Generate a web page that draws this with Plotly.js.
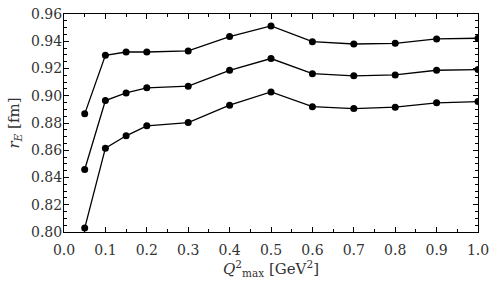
<!DOCTYPE html>
<html>
<head>
<meta charset="utf-8">
<script src="https://cdn.plot.ly/plotly-3.0.1.min.js"></script>
<style>html,body{margin:0;padding:0;background:#fff;}#chart{width:497px;height:291px;}</style>
</head>
<body>
<div id="chart"></div>
<script>
const q2max = [0.05, 0.1, 0.15, 0.2, 0.3, 0.4, 0.5, 0.6, 0.7, 0.8, 0.9, 1.0];
const upper = [0.8867, 0.9297, 0.9321, 0.9321, 0.9329, 0.9434, 0.9512, 0.9397, 0.9380, 0.9385, 0.9417, 0.9422];
const central = [0.8459, 0.8965, 0.9021, 0.9058, 0.9070, 0.9187, 0.9273, 0.9162, 0.9146, 0.9153, 0.9187, 0.9192];
const lower = [0.8029, 0.8615, 0.8706, 0.8779, 0.8803, 0.8931, 0.9028, 0.8920, 0.8906, 0.8916, 0.8948, 0.8957];
const xTickVals = [0, 0.1, 0.2, 0.3, 0.4, 0.5, 0.6, 0.7, 0.8, 0.9, 1.0];
const xTickText = ["0.0", "0.1", "0.2", "0.3", "0.4", "0.5", "0.6", "0.7", "0.8", "0.9", "1.0"];
const yTickVals = [0.80, 0.82, 0.84, 0.86, 0.88, 0.90, 0.92, 0.94, 0.96];
const yTickText = ["0.80", "0.82", "0.84", "0.86", "0.88", "0.90", "0.92", "0.94", "0.96"];

const serif = "DejaVu Serif";
function series(y) {
  return {x: q2max, y: y, type: 'scatter', mode: 'lines+markers',
    line: {color: '#000', width: 1.3}, marker: {color: '#000', size: 7},
    showlegend: false, cliponaxis: true};
}
const data = [series(upper), series(central), series(lower)];
const axisCommon = {showgrid: false, zeroline: false, showline: true, mirror: 'ticks',
  linecolor: '#000', linewidth: 1, ticks: 'inside', ticklen: 5, tickcolor: '#000',
  tickfont: {family: serif, size: 14, color: '#333'}};
const layout = {
  width: 497, height: 291,
  font: {family: serif, size: 14, color: '#333'},
  margin: {l: 64, r: 19, t: 14, b: 59},
  paper_bgcolor: '#fff', plot_bgcolor: '#fff',
  xaxis: Object.assign({}, axisCommon, {
    range: [0, 1.0], tickmode: 'array', tickvals: xTickVals, ticktext: xTickText,
    ticklabelstandoff: 5,
    minor: {dtick: 0.05, ticks: 'inside', ticklen: 3, tickcolor: '#000', showgrid: false},
    title: {text: '<i>Q</i><sup>2</sup><sub>max</sub> [GeV<sup>2</sup>]', font: {family: serif, size: 15, color: '#333'}, standoff: 0}
  }),
  yaxis: Object.assign({}, axisCommon, {
    range: [0.80, 0.96], tickmode: 'array', tickvals: yTickVals, ticktext: yTickText,
    ticklabelstandoff: -2,
    minor: {dtick: 0.005, tick0: 0.8, ticks: 'inside', ticklen: 3, tickcolor: '#000', showgrid: false},
    title: {text: '<i>r<sub>E</sub></i> [fm]', font: {family: serif, size: 15, color: '#333'}, standoff: 7}
  })
};
Plotly.newPlot('chart', data, layout, {displayModeBar: false, staticPlot: true});
</script>
</body>
</html>
